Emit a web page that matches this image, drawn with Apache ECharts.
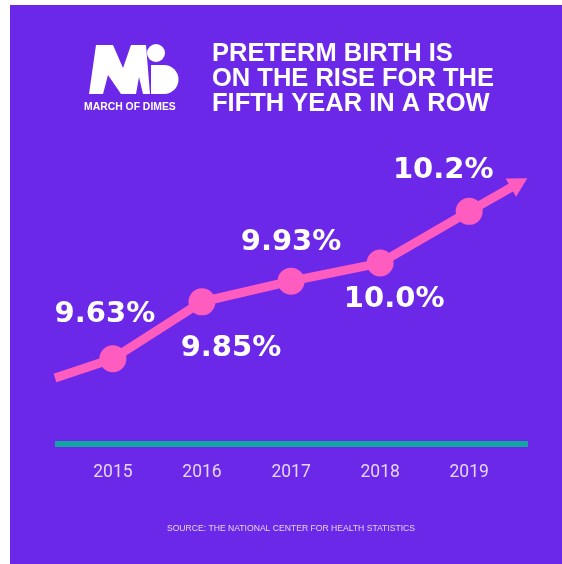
<!DOCTYPE html>
<html>
<head>
<meta charset="utf-8">
<script src="https://cdn.jsdelivr.net/npm/echarts@6/dist/echarts.min.js"></script>
<style>
  html, body { margin: 0; padding: 0; background: #ffffff; }
  #bg { position: absolute; left: 10px; top: 5px; width: 552px; height: 559px; background: #6b28e8; }
  #chart { position: absolute; left: 0; top: 0; width: 562px; height: 564px; }
</style>
</head>
<body>
<div id="bg"></div>
<div id="chart"></div>
<script>
// ---- data ----
const years = [2015, 2016, 2017, 2018, 2019];
const rates = [9.63, 9.85, 9.93, 10.0, 10.2];
const rateLabels = ['9.63%', '9.85%', '9.93%', '10.0%', '10.2%'];
const arrowTail = [2014.35, 9.555];
const arrowHead = [2019.56, 10.31];
const titleLines = ['PRETERM BIRTH IS', 'ON THE RISE FOR THE', 'FIFTH YEAR IN A ROW'];
const brandName = 'MARCH OF DIMES';
const sourceText = 'SOURCE: THE NATIONAL CENTER FOR HEALTH STATISTICS';

// ---- styling ----
const PINK = '#ff5cc0';
const TEAL = '#13a4a6';
const LAVENDER = '#e4d6f8';
const labelOffsets = [[-8, -44], [29, 47], [0, -39], [14, 36], [-26, -41]];

const points = years.map((y, i) => [y, rates[i]]);
const arrowPath = [arrowTail].concat(points);

const chart = echarts.init(document.getElementById('chart'), null, { renderer: 'canvas' });

const option = {
  backgroundColor: 'transparent',
  animation: false,
  grid: { left: 55, right: 34, top: 170, bottom: 120 },
  xAxis: {
    type: 'value',
    min: 2014.35,
    max: 2019.66,
    axisLine: { show: true, lineStyle: { color: TEAL, width: 6, cap: 'butt' } },
    axisTick: { show: false },
    splitLine: { show: false },
    axisLabel: {
      customValues: years,
      formatter: v => String(v),
      color: LAVENDER,
      fontFamily: 'Roboto',
      fontSize: 17.5,
      margin: 20
    }
  },
  yAxis: {
    type: 'value',
    min: 9.3,
    max: 10.36,
    show: false,
    splitLine: { show: false }
  },
  series: [
    {
      type: 'line',
      data: arrowPath,
      symbol: 'none',
      lineStyle: { color: PINK, width: 9, cap: 'butt', join: 'miter', opacity: 1 },
      z: 3,
      markLine: {
        silent: true,
        symbol: ['none', 'triangle'],
        symbolSize: [21, 19],
        label: { show: false },
        lineStyle: { color: PINK, width: 9, type: 'solid', opacity: 1 },
        data: [[{ coord: points[points.length - 1] }, { coord: arrowHead }]]
      }
    },
    {
      type: 'scatter',
      data: points.map((p, i) => ({
        value: p,
        label: {
          show: true,
          position: 'inside',
          offset: labelOffsets[i],
          formatter: rateLabels[i]
        }
      })),
      symbol: 'circle',
      symbolSize: 27,
      itemStyle: { color: PINK, opacity: 1 },
      label: {
        color: '#ffffff',
        fontFamily: 'DejaVu Sans',
        fontWeight: 'bold',
        fontSize: 29
      },
      z: 4
    }
  ],
  graphic: [
    // logo "M"
    {
      type: 'polygon',
      shape: { points: [[89, 94], [96, 45], [113, 45], [123, 68], [131, 45], [146, 45], [150, 94], [143, 94], [139, 77], [136, 94], [121, 94], [108, 75], [103, 94]] },
      style: { fill: '#ffffff' }
    },
    { type: 'circle', shape: { cx: 156, cy: 53, r: 9 }, style: { fill: '#ffffff' } },
    { type: 'rect', shape: { x: 151, y: 65, width: 13, height: 29 }, style: { fill: '#ffffff' } },
    { type: 'sector', shape: { cx: 164, cy: 79.5, r: 14.5, r0: 0, startAngle: -Math.PI / 2, endAngle: Math.PI / 2 }, style: { fill: '#ffffff' } },
    {
      type: 'text', left: 84, top: 102,
      style: { text: brandName, fill: '#ffffff', font: 'bold 10.4px "Liberation Sans"' }
    },
    // title
    {
      type: 'text', left: 212, top: 41,
      style: { text: titleLines.join('\n'), fill: '#ffffff', font: 'bold 25.5px "Liberation Sans"', lineHeight: 25 }
    },
    // source
    {
      type: 'text', x: 291, y: 529,
      style: { text: sourceText, fill: LAVENDER, font: '8.6px "Liberation Sans"', textAlign: 'center', textVerticalAlign: 'middle' }
    }
  ]
};

chart.setOption(option);
</script>
</body>
</html>
